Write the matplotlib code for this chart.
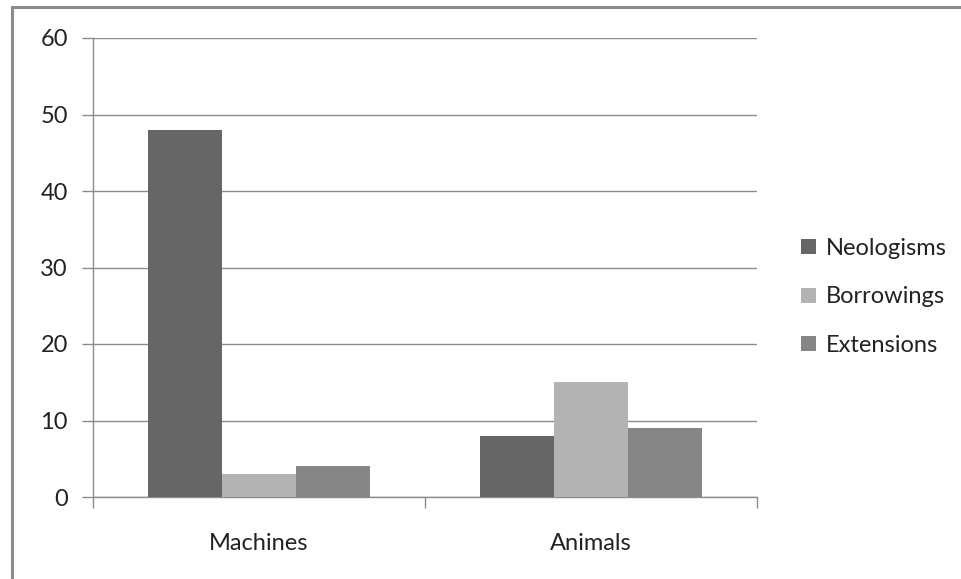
import matplotlib
matplotlib.use("Agg")
import matplotlib.pyplot as plt
from matplotlib.patches import Rectangle
import numpy as np

categories = ["Machines", "Animals"]
series_names = ["Neologisms", "Borrowings", "Extensions"]
neologisms = [48, 8]
borrowings = [3, 15]
extensions = [4, 9]
yticks = [0, 10, 20, 30, 40, 50, 60]

colors = ["#666666", "#b3b3b3", "#868686"]
grid_color = "#8c8c8c"
font = "Lato"
fs = 17

W, H = 961, 579
fig = plt.figure(figsize=(W / 100, H / 100), dpi=100)
fig.patch.set_facecolor("white")

# outer chart border
fig.patches.append(Rectangle((12 / W, -0.1), 1.0, (H - 7) / H + 0.1,
                             transform=fig.transFigure, fill=False,
                             edgecolor=grid_color, linewidth=2.2))

ax = fig.add_axes([93 / W, 1 - 497 / H, (757 - 93) / W, (497 - 38) / H])
values = [neologisms, borrowings, extensions]
x = np.arange(len(categories))
bw = 74 / 332
for i, (name, vals) in enumerate(zip(series_names, values)):
    ax.bar(x + (i - 1) * bw, vals, width=bw, color=colors[i], label=name,
           zorder=3, linewidth=0)

ax.set_xlim(-0.5, len(categories) - 0.5)
ax.set_ylim(0, 60)
ax.set_yticks(yticks)
ax.yaxis.grid(True, color=grid_color, linewidth=1.0, zorder=0)
ax.set_axisbelow(True)
for s in ["top", "right"]:
    ax.spines[s].set_visible(False)
for s in ["left", "bottom"]:
    ax.spines[s].set_color(grid_color)
    ax.spines[s].set_linewidth(1.0)

ax.set_xticks(np.arange(-0.5, len(categories)), minor=False)
ax.set_xticklabels([])
ax.set_xticks(x, minor=True)
ax.set_xticklabels(categories, minor=True, fontsize=fs, family=font,
                   color="#222222")
ax.tick_params(axis="x", which="major", length=8, color=grid_color, width=1.0)
ax.tick_params(axis="x", which="minor", length=0, pad=26)
ax.tick_params(axis="y", length=8, color=grid_color, width=1.0, pad=10,
               labelsize=fs, labelcolor="#222222")
for lbl in ax.get_yticklabels():
    lbl.set_family(font)

leg = ax.legend(loc="center left", bbox_to_anchor=(1.035, 0.436), frameon=False,
                prop={"family": font, "size": fs}, handlelength=0.6,
                handleheight=0.6, handletextpad=0.45, labelspacing=1.16)
for t in leg.get_texts():
    t.set_color("#222222")

fig.savefig("out.png", dpi=100)
